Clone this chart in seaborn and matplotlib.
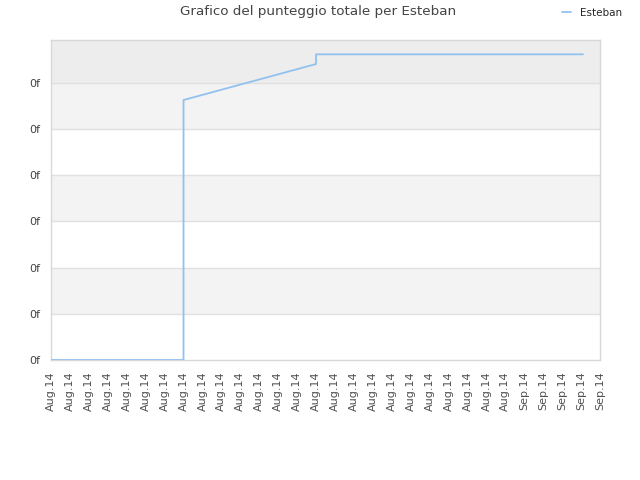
import numpy as np
import pandas as pd
import matplotlib
matplotlib.use("Agg")
import matplotlib.pyplot as plt
import seaborn as sns

# dati
x_labels = ["Aug.14"] * 25 + ["Sep.14"] * 5
y_ticks = [0, 1, 2, 3, 4, 5, 6]
y_labels = ["0f"] * 7
punti_x = [0, 7, 7, 14, 14, 28.1]
punti_y = [0, 0, 5.63, 6.41, 6.62, 6.62]

df = pd.DataFrame({"x": punti_x, "punteggio": punti_y})

sns.set_style("white")
plt.rcParams["font.family"] = ["DejaVu Sans"]

fig = plt.figure(figsize=(6.4, 4.8), dpi=100)
ax = fig.add_axes([51 / 640, 1 - 360 / 480, 549 / 640, 320 / 480])

y_top = 6.93
# bande alternate
for i in range(6):
    if i % 2 == 1:
        ax.axhspan(y_ticks[i], y_ticks[i + 1], color="#f3f3f3", zorder=0, lw=0)
ax.axhspan(6, y_top, color="#ededed", zorder=0, lw=0)
for t in y_ticks[1:]:
    ax.axhline(t, color="#e0e0e0", lw=1, zorder=1)

sns.lineplot(data=df, x="x", y="punteggio", ax=ax, estimator=None, sort=False,
             color="#92c1f0", lw=1.3, label="Esteban", zorder=3)

ax.set_xlim(0, 29)
ax.set_ylim(0, y_top)
ax.set_xticks(range(len(x_labels)))
ax.set_xticklabels(x_labels, rotation=90, fontsize=8, color="#505050")
ax.set_yticks(y_ticks)
ax.set_yticklabels(y_labels, fontsize=8, color="#444444")
ax.tick_params(axis="x", length=0, pad=8)
ax.tick_params(axis="y", length=0, pad=8)
ax.set_xlabel("")
ax.set_ylabel("")
for s in ax.spines.values():
    s.set_color("#d8d8d8")
    s.set_linewidth(1)

fig.text(318 / 640, 1 - 12 / 480, "Grafico del punteggio totale per Esteban",
         ha="center", va="center", fontsize=9.7, color="#444444")
ax.legend(loc="center", bbox_to_anchor=(592 / 640, 1 - 13 / 480),
          bbox_transform=fig.transFigure, frameon=False, fontsize=7.5,
          handlelength=0.9, handletextpad=0.9)

fig.savefig("out.png", dpi=100)
